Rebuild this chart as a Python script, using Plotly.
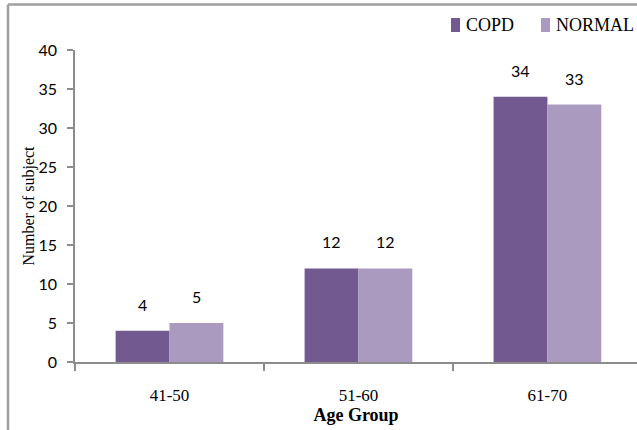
import plotly.graph_objects as go

categories = ["41-50", "51-60", "61-70"]
series_names = ["COPD", "NORMAL"]
copd = [4, 12, 34]
normal = [5, 12, 33]
colors = ["#72598F", "#AA9AC0"]

font_family = "Liberation Serif, Times New Roman, serif"
sans_family = "Lato, Carlito, Calibri, sans-serif"

fig = go.Figure()
for name, vals, col in zip(series_names, [copd, normal], colors):
    fig.add_trace(go.Bar(name=name, x=categories, y=vals, marker_color=col,
                         marker_line_width=0, showlegend=False))

annotations = []
# data labels above bars
for vals, shift in zip([copd, normal], [-27, 27]):
    for c, v in zip(categories, vals):
        annotations.append(dict(x=c, y=v, xref="x", yref="y", text=str(v), showarrow=False,
                                xshift=shift, yshift=15, yanchor="bottom",
                                font=dict(size=16, family=sans_family, color="black")))

# manual legend (squares + labels)
shapes = []
legend_x_px = [451, 541]   # left edge of each legend square in pixels
plot_left, plot_w = 75, 637 - 75
plot_bottom, plot_h = 362, 312
def px_to_paper_x(px):
    return (px - plot_left) / plot_w
def py_to_paper_y(py):
    return (plot_bottom - py) / plot_h

for name, col, lx in zip(series_names, colors, legend_x_px):
    shapes.append(dict(type="rect", xref="paper", yref="paper",
                       x0=px_to_paper_x(lx), x1=px_to_paper_x(lx + 9),
                       y0=py_to_paper_y(32), y1=py_to_paper_y(18),
                       fillcolor=col, line=dict(width=0)))
    annotations.append(dict(x=px_to_paper_x(lx + 13), y=py_to_paper_y(25), xref="paper", yref="paper",
                            text=name, showarrow=False, xanchor="left", yanchor="middle",
                            font=dict(size=18, family=font_family, color="black")))

# outer border lines (top and left)
shapes.append(dict(type="line", xref="paper", yref="paper",
                   x0=px_to_paper_x(8), x1=px_to_paper_x(640),
                   y0=py_to_paper_y(4.5), y1=py_to_paper_y(4.5),
                   line=dict(color="#a0a0a0", width=2.5)))
shapes.append(dict(type="line", xref="paper", yref="paper",
                   x0=px_to_paper_x(8), x1=px_to_paper_x(8),
                   y0=py_to_paper_y(440), y1=py_to_paper_y(4.5),
                   line=dict(color="#a0a0a0", width=2.5)))

fig.update_layout(
    width=637, height=430,
    margin=dict(l=75, r=0, t=50, b=68, autoexpand=False),
    paper_bgcolor="white", plot_bgcolor="white",
    barmode="group", bargap=0.43, bargroupgap=0,
    font=dict(family=font_family, size=16, color="black"),
    showlegend=False,
    hovermode=False,
    xaxis=dict(
        range=[-0.5, 2.474], showline=True, linecolor="#8c8c8c", linewidth=2,
        ticks="outside", tickson="boundaries", ticklen=7, tickcolor="#8c8c8c", tickwidth=1.5,
        showgrid=False, zeroline=False, ticklabelstandoff=17,
        title=dict(text="<b>Age Group</b>", font=dict(size=18, family=font_family), standoff=2),
        tickfont=dict(size=17, family=font_family),
    ),
    yaxis=dict(
        range=[0, 40], dtick=5, showline=True, linecolor="#8c8c8c", linewidth=1.5,
        ticks="outside", ticklen=6, tickcolor="#8c8c8c", tickwidth=1.5,
        showgrid=False, zeroline=False, ticklabelstandoff=7,
        title=dict(text="Number of subject", font=dict(size=16, family=font_family), standoff=0),
        tickfont=dict(size=16, family=sans_family),
    ),
    shapes=shapes,
    annotations=annotations,
)

fig.write_html("out.html", config={"displayModeBar": False},
               post_script="document.body.style.margin='0';document.body.style.overflow='hidden';")
